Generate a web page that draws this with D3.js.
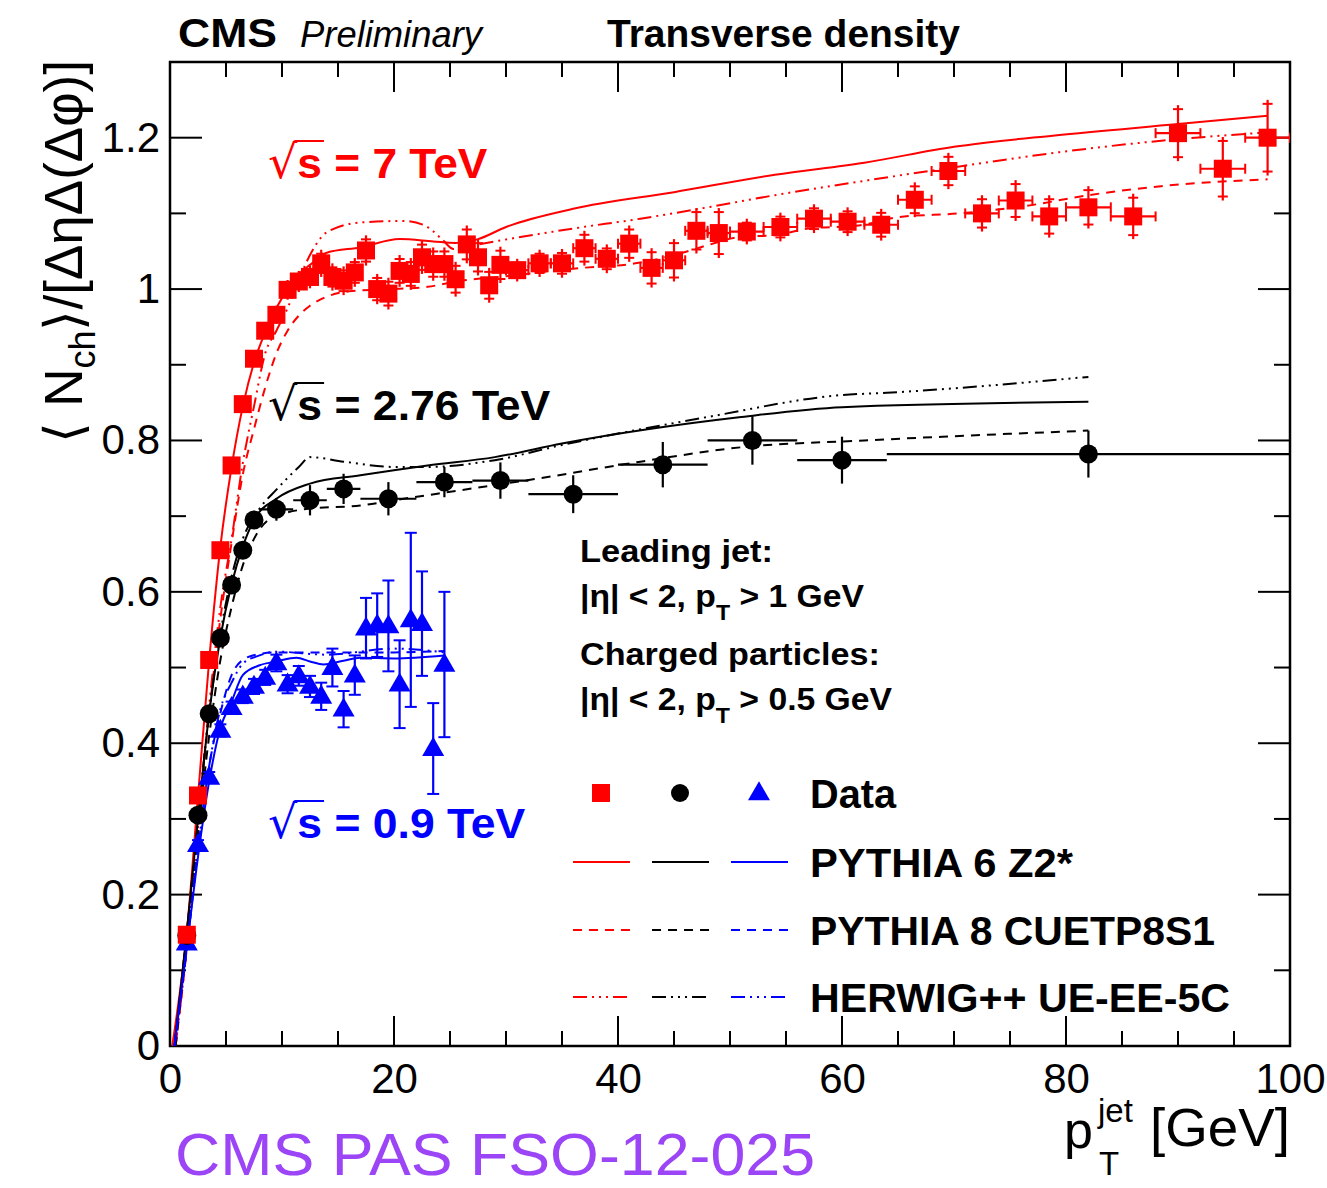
<!DOCTYPE html>
<html>
<head>
<meta charset="utf-8">
<script src="https://cdn.jsdelivr.net/npm/d3@7"></script>
<style>
  html, body { margin: 0; padding: 0; background: #fff; }
  svg { display: block; }
  text { font-family: "Liberation Sans", Arial, sans-serif; }
</style>
</head>
<body>
<svg id="chart" width="1327" height="1188"></svg>
<script>
// ===== DATA =====
// 7 TeV data (red squares)
const red_x = [1.5,2.5,3.5,4.5,5.5,6.5,7.5,8.5,9.5,10.5,11.5,12.5,13.5,14.5,15.5,16.5,17.5,18.5,19.5,20.5,21.5,22.5,23.5,24.5,25.5,26.5,27.5,28.5,29.5,
               31,33,35,37,39,41,43,45,47,49,
               51.5,54.5,57.5,60.5,63.5,66.5,69.5,72.5,75.5,78.5,
               82,86,90,94,98];
const red_xerr = [0.5,0.5,0.5,0.5,0.5,0.5,0.5,0.5,0.5,0.5,0.5,0.5,0.5,0.5,0.5,0.5,0.5,0.5,0.5,0.5,0.5,0.5,0.5,0.5,0.5,0.5,0.5,0.5,0.5,
                  1,1,1,1,1,1,1,1,1,1,
                  1.5,1.5,1.5,1.5,1.5,1.5,1.5,1.5,1.5,1.5,
                  2,2,2,2,2];
const red_y = [0.147,0.331,0.510,0.655,0.767,0.848,0.908,0.945,0.966,0.999,1.010,1.016,1.034,1.016,1.011,1.022,1.051,1.000,0.994,1.024,1.020,1.042,1.033,1.033,1.013,1.059,1.042,1.005,1.032,
               1.025,1.034,1.034,1.054,1.040,1.060,1.028,1.038,1.077,1.074,
               1.076,1.082,1.093,1.089,1.085,1.118,1.156,1.100,1.117,1.096,
               1.108,1.096,1.206,1.159,1.200];
const red_yerr = [0.008,0.008,0.008,0.008,0.009,0.010,0.010,0.011,0.012,0.013,0.014,0.015,0.018,0.018,0.019,0.019,0.020,0.020,0.021,0.021,0.021,0.022,0.022,0.022,0.023,0.025,0.024,0.023,0.024,
                  0.015,0.018,0.019,0.023,0.019,0.024,0.026,0.028,0.030,0.033,
                  0.017,0.019,0.019,0.019,0.021,0.023,0.024,0.024,0.027,0.028,
                  0.028,0.030,0.037,0.042,0.050];

// 2.76 TeV data (black circles)
const blk_x = [1.5,2.5,3.5,4.5,5.5,6.5,7.5,9.5,12.5,15.5,19.5,24.5,29.5,36,44,52,60,82];
const blk_xerr = [0.5,0.5,0.5,0.5,0.5,0.5,0.5,1.5,1.5,1.5,2.5,2.5,2.5,4,4,4,4,18];
const blk_y = [0.146,0.305,0.439,0.539,0.609,0.655,0.695,0.709,0.721,0.736,0.723,0.745,0.747,0.729,0.768,0.800,0.774,0.782];
const blk_yerr = [0.006,0.007,0.008,0.008,0.009,0.010,0.012,0.015,0.020,0.020,0.022,0.020,0.024,0.025,0.030,0.032,0.031,0.031];

// 0.9 TeV data (blue triangles)
const blu_x = [1.5,2.5,3.5,4.5,5.5,6.5,7.5,8.5,9.5,10.5,11.5,12.5,13.5,14.5,15.5,16.5,17.5,18.5,19.5,20.5,21.5,22.5,23.5,24.5];
const blu_y = [0.136,0.266,0.355,0.417,0.447,0.462,0.475,0.487,0.506,0.478,0.489,0.475,0.462,0.500,0.445,0.490,0.552,0.556,0.555,0.478,0.563,0.558,0.393,0.504];
const blu_yerr = [0.005,0.006,0.007,0.008,0.008,0.009,0.010,0.010,0.011,0.012,0.013,0.014,0.018,0.025,0.024,0.026,0.040,0.042,0.060,0.058,0.115,0.069,0.060,0.096];

// MC predictions: [pT, density]
const red_p6 = [[0.2,0],[1.5,0.15],[2.5,0.33],[3.5,0.51],[4.5,0.66],[5.5,0.765],[6.5,0.845],[7.5,0.903],[8.5,0.943],[9.5,0.975],[10.5,1.0],[11.5,1.02],[12.5,1.032],[14,1.048],[17,1.055],[20.5,1.066],[23.5,1.063],[25.5,1.061],[27.5,1.066],[30,1.082],[36,1.106],[45,1.128],[54,1.151],[62,1.167],[70,1.188],[79,1.203],[90,1.218],[98,1.229]];
const red_p8 = [[0.5,0],[1.5,0.13],[2.5,0.29],[3.5,0.44],[4.5,0.565],[5.5,0.665],[6.5,0.755],[7.5,0.815],[8.5,0.87],[9.5,0.915],[10.5,0.945],[11.5,0.965],[12.5,0.978],[14,0.99],[16,0.997],[20,1.0],[23,1.003],[26,1.011],[30,1.017],[36,1.027],[42,1.035],[46,1.049],[48,1.058],[51,1.069],[54,1.071],[57,1.08],[61.5,1.084],[65,1.095],[70.5,1.1],[76.5,1.11],[82,1.124],[88.5,1.136],[98,1.145]];
const red_hw = [[0.5,0],[1.5,0.13],[2.5,0.29],[3.5,0.45],[4.5,0.58],[5.5,0.67],[6.5,0.77],[7.5,0.845],[8.5,0.915],[9.5,0.945],[10.5,0.975],[11.5,1.012],[12.5,1.045],[14,1.075],[17,1.088],[21,1.09],[23,1.082],[24.4,1.064],[25.3,1.053],[27.5,1.059],[36,1.08],[42,1.093],[48,1.108],[54,1.124],[62,1.143],[70.5,1.162],[79.5,1.181],[88.5,1.196],[98,1.207]];

const blk_p6 = [[0.4,0],[1.5,0.15],[2.5,0.30],[3.5,0.44],[4.5,0.54],[5.5,0.61],[6.5,0.66],[7.5,0.695],[9.5,0.723],[12.5,0.743],[17,0.754],[23,0.767],[29,0.778],[35,0.796],[51,0.831],[60,0.844],[82,0.851]];
const blk_p8 = [[0.5,0],[1.5,0.14],[2.5,0.28],[3.5,0.41],[4.5,0.51],[5.5,0.58],[6.5,0.635],[7.5,0.67],[9,0.697],[12.5,0.71],[17,0.714],[20,0.721],[24,0.73],[33,0.75],[42,0.772],[51,0.791],[62,0.8],[82,0.813]];
const blk_hw = [[0.4,0],[1.5,0.15],[2.5,0.30],[3.5,0.44],[4.5,0.545],[5.5,0.62],[6.5,0.67],[8,0.71],[9.5,0.735],[11.5,0.765],[12.5,0.778],[15.5,0.772],[20,0.765],[23,0.765],[29,0.774],[35,0.794],[48,0.831],[60,0.86],[64,0.863],[82,0.884]];

const blu_p6 = [[0.4,0],[1.5,0.13],[2.5,0.25],[3.5,0.35],[4.5,0.42],[5.5,0.455],[6.5,0.49],[8,0.503],[9.5,0.508],[11.3,0.513],[12.5,0.508],[13.7,0.504],[15.5,0.509],[17,0.513],[20,0.512],[24.5,0.516]];
const blu_p8 = [[0.4,0],[1.5,0.13],[2.5,0.26],[3.5,0.37],[4.5,0.44],[5.5,0.49],[6.5,0.51],[8,0.518],[9.5,0.52],[14,0.52],[20,0.52],[24.5,0.522]];
const blu_hw = [[0.4,0],[1.5,0.13],[2.5,0.26],[3.5,0.37],[4.5,0.445],[5.5,0.48],[6.5,0.505],[8,0.516],[9.5,0.521],[14,0.517],[20,0.525],[24.5,0.52]];

const xTicks = [0,20,40,60,80,100];
const yTicks = [0,0.2,0.4,0.6,0.8,1,1.2];

// ===== SETUP =====
const svg = d3.select("#chart");
const L = 170, R = 1290, T = 62, B = 1046;
const x = d3.scaleLinear().domain([0,100]).range([L,R]);
const y = d3.scaleLinear().domain([0,1.3]).range([B,T]);

svg.append("defs").append("clipPath").attr("id","clip")
  .append("rect").attr("x",L).attr("y",T).attr("width",R-L).attr("height",B-T);

const RED = "#ff0000", BLK = "#000000", BLU = "#0000ff";
const DASH = "9,7", DDD = "14,5,2,5,2,5,2,5";

// ===== FRAME + TICKS =====
const frame = svg.append("g");
frame.append("rect").attr("x",L).attr("y",T).attr("width",R-L).attr("height",B-T)
  .attr("fill","none").attr("stroke","#000").attr("stroke-width",2.5);

const xMinor = d3.range(0,101,5), yMinor = d3.range(0,13).map(i=>i/10);
xMinor.forEach(v=>{
  const len = v%20===0 ? 30 : 15;
  frame.append("line").attr("x1",x(v)).attr("x2",x(v)).attr("y1",B).attr("y2",B-len).attr("stroke","#000").attr("stroke-width",2);
  frame.append("line").attr("x1",x(v)).attr("x2",x(v)).attr("y1",T).attr("y2",T+len).attr("stroke","#000").attr("stroke-width",2);
});
yMinor.forEach((v,i)=>{
  const len = i%2===0 ? 32 : 16;
  frame.append("line").attr("x1",L).attr("x2",L+len).attr("y1",y(v)).attr("y2",y(v)).attr("stroke","#000").attr("stroke-width",2);
  frame.append("line").attr("x1",R).attr("x2",R-len).attr("y1",y(v)).attr("y2",y(v)).attr("stroke","#000").attr("stroke-width",2);
});

// tick labels via d3 axes (lines hidden, ROOT-style ticks drawn above)
const xAxis = svg.append("g").attr("transform",`translate(0,${B})`)
  .call(d3.axisBottom(x).tickValues(xTicks).tickSize(0).tickPadding(0).tickFormat(d3.format("d")));
const yAxis = svg.append("g").attr("transform",`translate(${L},0)`)
  .call(d3.axisLeft(y).tickValues(yTicks).tickSize(0).tickPadding(10).tickFormat(d=>d3.format("~g")(d)));
[xAxis,yAxis].forEach(a=>{
  a.select(".domain").remove();
  a.selectAll("text").attr("font-family","Liberation Sans, Arial, sans-serif").attr("font-size",42).attr("fill","#000");
});
xAxis.selectAll("text").attr("y",47).attr("dy",0);

// ===== AXIS TITLES =====
const yt = svg.append("text").attr("transform",`translate(82,${T-2}) rotate(-90)`)
  .attr("text-anchor","end").attr("font-size",53).attr("fill","#000");
yt.append("tspan").text("⟨ N");
yt.append("tspan").attr("font-size",36).attr("dy",13).text("ch");
yt.append("tspan").attr("dy",-13).text("⟩/[ΔηΔ(Δφ)]");

const xt = svg.append("g").attr("fill","#000");
xt.append("text").attr("x",1064).attr("y",1148).attr("font-size",52).text("p");
xt.append("text").attr("x",1098).attr("y",1122).attr("font-size",33).text("jet");
xt.append("text").attr("x",1099).attr("y",1175).attr("font-size",33).text("T");
xt.append("text").attr("x",1290).attr("y",1146).attr("text-anchor","end").attr("font-size",54)
  .attr("textLength",140).attr("lengthAdjust","spacingAndGlyphs").text("[GeV]");

// ===== HEADER =====
svg.append("text").attr("x",178).attr("y",47).attr("font-size",40).attr("font-weight","bold")
  .attr("textLength",99).attr("lengthAdjust","spacingAndGlyphs").text("CMS");
svg.append("text").attr("x",300).attr("y",47).attr("font-size",36).attr("font-style","italic")
  .attr("textLength",182).attr("lengthAdjust","spacingAndGlyphs").text("Preliminary");
svg.append("text").attr("x",607).attr("y",47).attr("font-size",38).attr("font-weight","bold")
  .attr("textLength",353).attr("lengthAdjust","spacingAndGlyphs").text("Transverse density");

// ===== MC CURVES =====
const plot = svg.append("g").attr("clip-path","url(#clip)");
const line = d3.line().x(d=>x(d[0])).y(d=>y(d[1])).curve(d3.curveMonotoneX);
const curves = [
  [red_p6,RED,null],[red_p8,RED,DASH],[red_hw,RED,DDD],
  [blk_p6,BLK,null],[blk_p8,BLK,DASH],[blk_hw,BLK,DDD],
  [blu_p6,BLU,null],[blu_p8,BLU,DASH],[blu_hw,BLU,DDD]
];
curves.forEach(([d,c,dash])=>{
  plot.append("path").datum(d).attr("d",line).attr("fill","none")
    .attr("stroke",c).attr("stroke-width",2).attr("stroke-dasharray",dash);
});

// ===== DATA POINTS =====
function errorBars(g, xs, ys, xe, ye, color, capStyle){
  xs.forEach((xv,i)=>{
    const cx = x(xv), cy = y(ys[i]);
    const yTop = y(ys[i]+ye[i]), yBot = y(ys[i]-ye[i]);
    g.append("line").attr("x1",cx).attr("x2",cx).attr("y1",yTop).attr("y2",yBot).attr("stroke",color).attr("stroke-width",2.2);
    if(xe){
      const x0 = x(xv-xe[i]), x1 = x(xv+xe[i]);
      g.append("line").attr("x1",x0).attr("x2",x1).attr("y1",cy).attr("y2",cy).attr("stroke",color).attr("stroke-width",2.2);
      if(capStyle==="plus"){
        [x0,x1].forEach(xx=>g.append("line").attr("x1",xx).attr("x2",xx).attr("y1",cy-5).attr("y2",cy+5).attr("stroke",color).attr("stroke-width",2));
      }
    }
    if(capStyle==="plus"){
      [yTop+4,yBot-4].forEach(yy=>g.append("line").attr("x1",cx-5).attr("x2",cx+5).attr("y1",yy).attr("y2",yy).attr("stroke",color).attr("stroke-width",2));
    } else if(capStyle==="cap"){
      [yTop,yBot].forEach(yy=>g.append("line").attr("x1",cx-6).attr("x2",cx+6).attr("y1",yy).attr("y2",yy).attr("stroke",color).attr("stroke-width",2));
    }
  });
}

const dg = svg.append("g").attr("clip-path","url(#clip)");
errorBars(dg, blu_x, blu_y, null, blu_yerr, BLU, "cap");
errorBars(dg, blk_x, blk_y, blk_xerr, blk_yerr, BLK, null);
errorBars(dg, red_x, red_y, red_xerr, red_yerr, RED, "plus");

const tri = d3.symbol().type(d3.symbolTriangle).size(210);
dg.selectAll(".tri").data(blu_x).join("path").attr("class","tri")
  .attr("transform",(d,i)=>`translate(${x(d)},${y(blu_y[i])+1})`).attr("d",tri).attr("fill",BLU);
dg.selectAll(".circ").data(blk_x).join("circle").attr("class","circ")
  .attr("cx",d=>x(d)).attr("cy",(d,i)=>y(blk_y[i])).attr("r",9.5).attr("fill",BLK);
dg.selectAll(".sq").data(red_x).join("rect").attr("class","sq")
  .attr("x",d=>x(d)-9).attr("y",(d,i)=>y(red_y[i])-9).attr("width",18).attr("height",18).attr("fill",RED);

// ===== ENERGY LABELS =====
function sqrtLabel(xp, yp, str, color, len){
  const t = svg.append("text").attr("x",xp).attr("y",yp).attr("fill",color).attr("font-size",42);
  t.append("tspan").attr("font-family","DejaVu Sans").attr("font-weight","normal").attr("font-size",46).text("√");
  t.append("tspan").attr("font-weight","bold").attr("textLength",len).attr("lengthAdjust","spacingAndGlyphs").text(str);
  const n = t.node();
  const e0 = n.getExtentOfChar(0), e1 = n.getExtentOfChar(1);
  svg.append("line").attr("x1",e0.x+e0.width-3).attr("x2",e1.x+e1.width+2)
    .attr("y1",e0.y+6).attr("y2",e0.y+6).attr("stroke",color).attr("stroke-width",2);
}
sqrtLabel(268,178,"s = 7 TeV",RED,190);
sqrtLabel(268,420,"s = 2.76 TeV",BLK,253);
sqrtLabel(268,838,"s = 0.9 TeV",BLU,228);

// ===== CUTS TEXT =====
function cutText(yp, parts, len){
  const t = svg.append("text").attr("x",580).attr("y",yp).attr("font-size",32).attr("font-weight","bold")
    .attr("fill","#000");
  parts.forEach(p=>{
    const s = t.append("tspan").text(p.t);
    if(p.sub){ s.attr("font-size",22).attr("dy",13); }
    if(p.back){ s.attr("dy",-13); }
  });
  t.attr("textLength",len).attr("lengthAdjust","spacingAndGlyphs");
}
cutText(562,[{t:"Leading jet:"}],193);
cutText(607,[{t:"|η| < 2, p"},{t:"T",sub:true},{t:" > 1 GeV",back:true}],284);
cutText(665,[{t:"Charged particles:"}],300);
cutText(710,[{t:"|η| < 2, p"},{t:"T",sub:true},{t:" > 0.5 GeV",back:true}],312);

// ===== LEGEND =====
const lg = svg.append("g");
const lx = [601,680,759];
lg.append("rect").attr("x",lx[0]-9).attr("y",793-9).attr("width",18).attr("height",18).attr("fill",RED);
lg.append("circle").attr("cx",lx[1]).attr("cy",793).attr("r",9).attr("fill",BLK);
lg.append("path").attr("transform",`translate(${lx[2]},${794})`).attr("d",tri).attr("fill",BLU);
const rows = [[862,null,"PYTHIA 6 Z2*",263],[930,DASH,"PYTHIA 8 CUETP8S1",405],[997,DDD,"HERWIG++ UE-EE-5C",420]];
rows.forEach(([yy,dash,label,len])=>{
  [RED,BLK,BLU].forEach((c,i)=>{
    lg.append("line").attr("x1",lx[i]-28).attr("x2",lx[i]+29).attr("y1",yy).attr("y2",yy)
      .attr("stroke",c).attr("stroke-width",2).attr("stroke-dasharray",dash);
  });
  lg.append("text").attr("x",810).attr("y",yy+15).attr("font-size",40).attr("font-weight","bold")
    .attr("textLength",len).attr("lengthAdjust","spacingAndGlyphs").text(label);
});
lg.append("text").attr("x",810).attr("y",808).attr("font-size",40).attr("font-weight","bold")
  .attr("textLength",86).attr("lengthAdjust","spacingAndGlyphs").text("Data");

// ===== FOOTER =====
svg.append("text").attr("x",175).attr("y",1175).attr("font-family","Lato, sans-serif")
  .attr("font-size",60).attr("fill","#9b45f7")
  .attr("textLength",640).attr("lengthAdjust","spacingAndGlyphs").text("CMS PAS FSO-12-025");
</script>
</body>
</html>
